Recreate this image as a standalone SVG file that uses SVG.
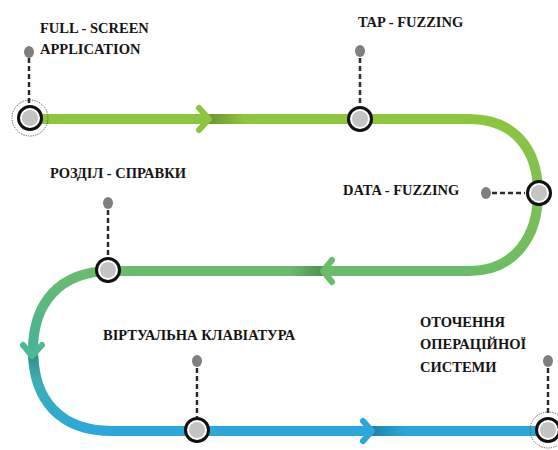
<svg xmlns="http://www.w3.org/2000/svg" width="558" height="450" viewBox="0 0 558 450">
<style>
.lbl{font-family:'Liberation Serif','Times New Roman','DejaVu Serif',serif;font-weight:bold;font-size:14.5px;fill:#151515}
.ring{fill:#fff;stroke:#111;stroke-width:3}
.core{fill:#c4c4c4}
.pin{fill:#7f7f7f}
.dash{stroke:#2a2a2a;stroke-width:2.5;stroke-dasharray:5 3;fill:none}
.dot{fill:none;stroke:#555;stroke-width:1;stroke-dasharray:1.2 1.2}
.track{fill:none;stroke-width:10}
.chev{fill:none;stroke-width:6;stroke-linecap:round;stroke-linejoin:round}
</style>
<defs>
<linearGradient id="gRight" gradientUnits="userSpaceOnUse" x1="0" y1="119" x2="0" y2="271">
<stop offset="0" stop-color="#8cc63f"/><stop offset="1" stop-color="#6cbc64"/>
</linearGradient>
<linearGradient id="gLeft" gradientUnits="userSpaceOnUse" x1="0" y1="271" x2="0" y2="431">
<stop offset="0" stop-color="#6abb6b"/><stop offset="0.5" stop-color="#46b39a"/><stop offset="1" stop-color="#2ba7dc"/>
</linearGradient>
<linearGradient id="shTop" gradientUnits="userSpaceOnUse" x1="208" y1="0" x2="245" y2="0">
<stop offset="0" stop-color="#6e9432"/><stop offset="1" stop-color="#8cc63f"/>
</linearGradient>
<linearGradient id="shMid" gradientUnits="userSpaceOnUse" x1="324" y1="0" x2="290" y2="0">
<stop offset="0" stop-color="#4f8f52"/><stop offset="1" stop-color="#6abb6b"/>
</linearGradient>
<linearGradient id="shBot" gradientUnits="userSpaceOnUse" x1="370" y1="0" x2="405" y2="0">
<stop offset="0" stop-color="#1f7fa8"/><stop offset="1" stop-color="#2ba7dc"/>
</linearGradient>
<linearGradient id="shLeft" gradientUnits="userSpaceOnUse" x1="0" y1="356" x2="0" y2="385">
<stop offset="0" stop-color="#2f8a87"/><stop offset="1" stop-color="#3aa4b8" stop-opacity="0"/>
</linearGradient>
</defs>

<g id="connectors">
<path class="track" stroke="#8cc63f" d="M30,119 L470,119"/>
<path class="track" stroke="url(#gRight)" d="M469,119 C515,119 538,150 538,193 C538,236 515,271 469,271"/>
<path class="track" stroke="#6abb6b" d="M470,271 L110,271"/>
<path class="track" stroke="url(#gLeft)" d="M111,271 C58,271 33,305 33,350 C33,400 60,431 112,431"/>
<path class="track" stroke="#2ba7dc" d="M110,431 L558,431"/>
<path class="track" stroke="url(#shTop)" d="M208,119 L245,119"/>
<path class="track" stroke="url(#shMid)" d="M324,271 L290,271"/>
<path class="track" stroke="url(#shBot)" d="M370,431 L405,431"/>
<path class="track" stroke="url(#shLeft)" d="M33.2,356 C33.8,368 36,378 39,386"/>
<polyline class="chev" stroke="#8cc63f" points="199,108 209,119 199,130"/>
<polyline class="chev" stroke="#6abb6b" points="332,260 323,271 332,282"/>
<polyline class="chev" stroke="#2ba7dc" points="363,421 372,431 363,441"/>
<polyline class="chev" stroke="#4dba96" points="23,345 32,356 42,345"/>
</g>

<g id="n1">
<circle class="dot" cx="30" cy="118" r="18"/>
<path class="dash" d="M29,58 L29,104"/>
<ellipse class="pin" cx="29" cy="52" rx="5" ry="6"/>
<circle class="ring" cx="30" cy="118" r="11.5"/>
<circle class="core" cx="30" cy="118" r="8"/>
<text class="lbl" x="40" y="33">FULL - SCREEN</text>
<text class="lbl" x="40" y="54">APPLICATION</text>
</g>

<g id="n2">
<path class="dash" d="M360,58 L360,104"/>
<ellipse class="pin" cx="360" cy="51" rx="5" ry="6"/>
<circle class="ring" cx="360" cy="119" r="11.5"/>
<circle class="core" cx="360" cy="119" r="8"/>
<text class="lbl" x="358" y="27">TAP - FUZZING</text>
</g>

<g id="n3">
<path class="dash" d="M492,193 L525,193"/>
<ellipse class="pin" cx="486" cy="193" rx="5" ry="6"/>
<circle class="ring" cx="539" cy="193" r="11.5"/>
<circle class="core" cx="539" cy="193" r="8"/>
<text class="lbl" x="343" y="195">DATA - FUZZING</text>
</g>

<g id="n4">
<path class="dash" d="M108,210 L108,257"/>
<ellipse class="pin" cx="108" cy="203" rx="5" ry="6"/>
<circle class="ring" cx="108" cy="270" r="11.5"/>
<circle class="core" cx="108" cy="270" r="8"/>
<text class="lbl" x="50" y="178">РОЗДІЛ - СПРАВКИ</text>
</g>

<g id="n5">
<path class="dash" d="M197,368 L197,417"/>
<ellipse class="pin" cx="197" cy="361" rx="5" ry="6"/>
<circle class="ring" cx="197" cy="430" r="11.5"/>
<circle class="core" cx="197" cy="430" r="8"/>
<text class="lbl" x="103" y="340">ВІРТУАЛЬНА КЛАВІАТУРА</text>
</g>

<g id="n6">
<circle class="dot" cx="548" cy="430" r="18"/>
<path class="dash" d="M548,368 L548,416"/>
<ellipse class="pin" cx="548" cy="361" rx="5" ry="6"/>
<circle class="ring" cx="548" cy="430" r="11.5"/>
<circle class="core" cx="548" cy="430" r="8"/>
<text class="lbl" x="420" y="327">ОТОЧЕННЯ</text>
<text class="lbl" x="420" y="349">ОПЕРАЦІЙНОЇ</text>
<text class="lbl" x="420" y="372">СИСТЕМИ</text>
</g>
</svg>
